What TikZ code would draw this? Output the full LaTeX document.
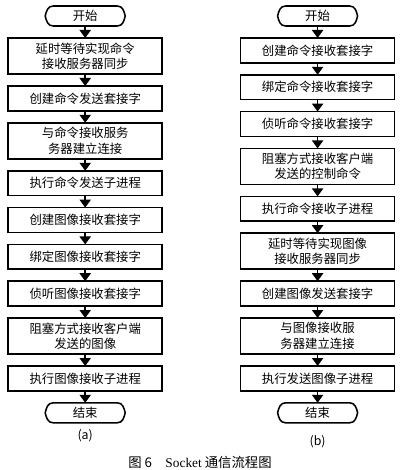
\documentclass[tikz,border=0pt]{standalone}
\usepackage{fontspec}
\setmainfont{Liberation Serif}
\newfontfamily\cjk{Noto Sans CJK SC}
\usetikzlibrary{arrows.meta, positioning}

\begin{document}
\begin{tikzpicture}[
    node distance=0.3cm,
    every node/.style={font=\cjk\fontsize{8.8}{11}\selectfont},
    box/.style={draw, line width=1.1pt, minimum width=3.85cm, minimum height=0.62cm,
                align=center, inner sep=1pt, outer sep=0pt},
    box2/.style={box, minimum height=0.9cm},
    term/.style={minimum width=1.6cm, minimum height=0.5cm, inner sep=0pt, outer sep=0pt},
    arr/.style={-{Triangle[length=2mm, width=2.8mm]}, line width=1.1pt}
  ]
  \useasboundingbox (0,0) rectangle (10,-11.75);
  % (a) command sender / image receiver
  \node[term] (ls) at (2.13,-0.4) {开始};
  \node[box2, below=of ls] (l1) {延时等待实现命令\\接收服务器同步};
  \node[box, below=of l1] (l2) {创建命令发送套接字};
  \node[box2, below=of l2] (l3) {与命令接收服务\\务器建立连接};
  \node[box, below=of l3] (l4) {执行命令发送子进程};
  \node[box, below=of l4] (l5) {创建图像接收套接字};
  \node[box, below=of l5] (l6) {绑定图像接收套接字};
  \node[box, below=of l6] (l7) {侦听图像接收套接字};
  \node[box2, below=of l7] (l8) {阻塞方式接收客户端\\发送的图像};
  \node[box, below=of l8] (l9) {执行图像接收子进程};
  \node[term, below=of l9] (le) {结束};
  \node[below=0.05cm of le] (la) {(a)};
  % (b) command receiver / image sender
  \node[term] (rs) at (7.94,-0.4) {开始};
  \node[box, below=of rs] (r1) {创建命令接收套接字};
  \node[box, below=of r1] (r2) {绑定命令接收套接字};
  \node[box, below=of r2] (r3) {侦听命令接收套接字};
  \node[box2, below=of r3] (r4) {阻塞方式接收客户端\\发送的控制命令};
  \node[box, below=of r4] (r5) {执行命令接收子进程};
  \node[box2, below=of r5] (r6) {延时等待实现图像\\接收服务器同步};
  \node[box, below=of r6] (r7) {创建图像发送套接字};
  \node[box2, below=of r7] (r8) {与图像接收服\\务器建立连接};
  \node[box, below=of r8] (r9) {执行发送图像子进程};
  \node[term, below=of r9] (re) {结束};
  \node[below=0.2cm of re] (lb) {(b)};
  % caption
  \node[font=\cjk\fontsize{9.5}{11}\selectfont] (cap) at (5,-11.55)
    {图 6\quad{\rmfamily Socket} 通信流程图};
  % terminal outlines
  \foreach \n in {ls, le, rs, re}
    \draw[line width=1.1pt] (\n.north west) -- (\n.north east)
      .. controls +(0.14,0) and +(-0.03,0.12) .. ([xshift=0.2cm]\n.east)
      .. controls +(-0.03,-0.12) and +(0.14,0) .. (\n.south east)
      -- (\n.south west)
      .. controls +(-0.14,0) and +(0.03,-0.12) .. ([xshift=-0.2cm]\n.west)
      .. controls +(0.03,0.12) and +(-0.14,0) .. cycle;
  % arrows
  \foreach \a/\b in {ls/l1, l1/l2, l2/l3, l3/l4, l4/l5, l5/l6, l6/l7, l7/l8, l8/l9, l9/le,
                     rs/r1, r1/r2, r2/r3, r3/r4, r4/r5, r5/r6, r6/r7, r7/r8, r8/r9, r9/re}
    \draw[arr] (\a) -- (\b);
\end{tikzpicture}
\end{document}
